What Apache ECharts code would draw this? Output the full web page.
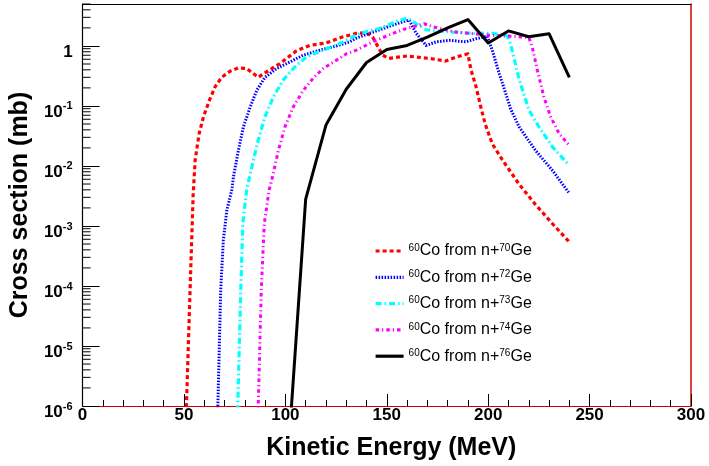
<!DOCTYPE html>
<html>
<head>
<meta charset="utf-8">
<script src="https://cdn.jsdelivr.net/npm/echarts@6/dist/echarts.min.js"></script>
<style>html,body{margin:0;padding:0;background:#fff;}#c{width:709px;height:466px;}</style>
</head>
<body>
<div id="c"></div>
<script>
// ---- data ----
const seriesNames = ['60Co from n+70Ge', '60Co from n+72Ge', '60Co from n+73Ge', '60Co from n+74Ge', '60Co from n+76Ge'];
const targetMass = ['70', '72', '73', '74', '76'];
const productMass = '60';

const energy70 = [50, 51.2, 53, 54.5, 55.5, 57.5, 59.6, 62.6, 65.4, 68.6, 72.7, 76.8, 80.9, 86.6, 90.7, 97.3, 105.5, 112, 120, 128, 135, 140, 143, 148, 151, 160, 171, 179, 184, 190, 191.5, 194, 196.4, 198.5, 202, 207, 215, 223, 231.6, 240];
const xs70 = [5e-8, 1e-6, 8.5e-5, 3.2e-3, 1.26e-2, 3.5e-2, 6.6e-2, 0.126, 0.21, 0.30, 0.38, 0.43, 0.42, 0.30, 0.37, 0.51, 0.83, 1.02, 1.12, 1.41, 1.62, 1.66, 1.41, 0.70, 0.62, 0.68, 0.62, 0.56, 0.65, 0.74, 0.40, 0.21, 0.095, 0.05, 0.0234, 0.0126, 0.0051, 0.00234, 0.0011, 0.00054];

const energy72 = [65, 66.7, 68.1, 69.4, 71.1, 73.6, 74.4, 76.8, 79.3, 82.6, 85.8, 89.9, 95.7, 102.2, 108.7, 117, 125.2, 131.7, 135, 143.1, 151.4, 159.6, 161, 164.5, 169.4, 174.3, 180.8, 189, 194, 199.5, 202, 205.4, 208.7, 211, 215.2, 223.4, 231.6, 240];
const xs72 = [5e-9, 1e-6, 8.5e-5, 5.8e-4, 1.8e-3, 4e-3, 6.6e-3, 0.018, 0.045, 0.095, 0.18, 0.30, 0.42, 0.54, 0.70, 0.85, 1.0, 1.17, 1.35, 1.7, 2.14, 2.63, 2.7, 1.62, 1.02, 1.17, 1.24, 1.17, 1.32, 1.45, 0.85, 0.35, 0.16, 0.09, 0.045, 0.018, 0.0085, 0.0035];

const energy73 = [75, 76.5, 78, 79, 80.9, 83.4, 86.6, 89.9, 94, 98.9, 104.7, 110.4, 118.6, 126.8, 136.6, 146.4, 156.3, 160.3, 164.5, 169.4, 182.5, 192.3, 202.1, 208.7, 210.3, 212, 215.2, 220.1, 225, 231.6, 240];
const xs73 = [1.3e-8, 1e-6, 8.5e-5, 1.1e-3, 4e-3, 9.5e-3, 0.027, 0.066, 0.14, 0.27, 0.45, 0.66, 0.85, 1.1, 1.62, 1.95, 2.7, 2.88, 2.34, 1.86, 1.7, 1.62, 1.62, 1.51, 1.32, 0.79, 0.28, 0.085, 0.045, 0.021, 0.0102];

const energy74 = [85, 86.6, 88.1, 89.6, 92, 94, 96.5, 99.8, 103.8, 108.7, 113.7, 118.6, 125.2, 130.1, 135, 143.1, 153, 159.6, 168.5, 172.6, 184.1, 200.5, 212, 220.1, 221.8, 224.2, 227.5, 230.8, 234.9, 240];
const xs74 = [8e-9, 1e-6, 8.5e-5, 1.1e-3, 4e-3, 7.4e-3, 0.018, 0.045, 0.095, 0.18, 0.29, 0.42, 0.58, 0.74, 0.85, 1.17, 1.62, 1.95, 2.34, 2.09, 1.7, 1.51, 1.45, 1.38, 0.93, 0.40, 0.14, 0.066, 0.035, 0.022];

const energy76 = [100, 110, 120, 130, 140, 150, 160, 170, 180, 190, 200, 210, 220, 230, 240];
const xs76 = [3.3e-8, 2.8e-3, 0.048, 0.19, 0.53, 0.87, 1.02, 1.4, 2.0, 2.75, 1.12, 1.78, 1.42, 1.6, 0.3];

const xTickValues = [0, 50, 100, 150, 200, 250, 300];
const yDecades = [-6, -5, -4, -3, -2, -1, 0];

// ---- build ----
const zip = (a, b) => a.map((v, i) => [v, b[i]]);
const allEnergy = [energy70, energy72, energy73, energy74, energy76];
const allXs = [xs70, xs72, xs73, xs74, xs76];
const colors = ['#ff0000', '#0000ff', '#00ffff', '#ff00ff', '#000000'];
const dashes = [[4, 3], [1.5, 1.5], [6, 3, 1.5, 3], [3.5, 3, 1.2, 3], 'solid'];
const widths = [3.2, 3, 3.2, 3, 3];

// minor ticks on the log axis (2..9 per decade)
const minorVals = [];
for (let d = -6; d <= 0; d++) for (let k = 2; k <= 9; k++) { const v = k * Math.pow(10, d); if (v <= 5) minorVals.push([0, v]); }

const FONT = "'Liberation Sans', Arial, Helvetica, sans-serif";

const lineSeries = seriesNames.map((n, i) => ({
  name: n, type: 'line', data: zip(allEnergy[i], allXs[i]),
  showSymbol: false, symbol: 'none', clip: true, z: 3 + i,
  lineStyle: { color: colors[i], width: widths[i], type: dashes[i], cap: 'butt', join: 'round' },
  itemStyle: { color: colors[i] }
}));

const chart = echarts.init(document.getElementById('c'), null, { renderer: 'canvas' });
chart.setOption({
  animation: false,
  backgroundColor: '#ffffff',
  grid: { left: 82, right: 18, top: 4, bottom: 60 },
  legend: {
    data: seriesNames, orient: 'vertical', left: 369, top: 238,
    itemWidth: 28, itemHeight: 16, itemGap: 10.3,
    itemStyle: { opacity: 0, borderWidth: 0, color: 'rgba(0,0,0,0)' },
    lineStyle: { width: 3.2 },
    formatter: (name) => { const i = seriesNames.indexOf(name); return '{s|' + productMass + '}{t|Co from n+}{s|' + targetMass[i] + '}{t|Ge}'; },
    textStyle: {
      fontFamily: FONT, color: '#000',
      rich: {
        t: { fontSize: 16, fontFamily: FONT, color: '#000', lineHeight: 16, verticalAlign: 'bottom' },
        s: { fontSize: 10, fontFamily: FONT, color: '#000', lineHeight: 8, verticalAlign: 'top' }
      }
    }
  },
  xAxis: [{
    type: 'value', min: 0, max: 300, interval: 50, position: 'bottom',
    name: 'Kinetic Energy (MeV)', nameLocation: 'middle', nameGap: 30,
    nameTextStyle: { fontFamily: FONT, fontWeight: 'bold', fontSize: 25, color: '#000', padding: [0, 0, 0, 9] },
    axisLine: { show: true, onZero: false, lineStyle: { color: '#cc0000', width: 1.2 } },
    axisTick: { show: true, inside: true, length: 12, lineStyle: { color: '#000', width: 1 } },
    minorTick: { show: true, splitNumber: 5, length: 6, lineStyle: { color: '#000', width: 1 } },
    axisLabel: { fontFamily: FONT, fontWeight: 'bold', fontSize: 17, color: '#000', margin: 1, showMinLabel: true, showMaxLabel: true },
    splitLine: { show: false }
  }, {
    type: 'value', min: 0, max: 300, position: 'top',
    axisLine: { show: true, onZero: false, lineStyle: { color: '#000', width: 1.2 } },
    axisTick: { show: false }, axisLabel: { show: false }, splitLine: { show: false }
  }],
  yAxis: [{
    type: 'log', logBase: 10, min: 1e-6, max: 5, position: 'left',
    name: 'Cross section (mb)', nameLocation: 'middle', nameGap: 47,
    nameTextStyle: { fontFamily: FONT, fontWeight: 'bold', fontSize: 25, color: '#000' },
    axisLine: { show: true, onZero: false, lineStyle: { color: '#000', width: 1.2 } },
    axisTick: { show: true, inside: true, length: 17, lineStyle: { color: '#000', width: 1 } },
    minorTick: { show: false },
    axisLabel: {
      margin: 10, padding: [10, 0, 0, 0],
      formatter: (v) => {
        const l = Math.log10(v), e = Math.round(l);
        if (Math.abs(l - e) > 1e-6 || yDecades.indexOf(e) < 0) return '';
        if (e === 0) return '{b|1}';
        return '{b|10}{e|' + e + '}';
      },
      rich: {
        b: { fontFamily: FONT, fontWeight: 'bold', fontSize: 17, color: '#000', lineHeight: 20, verticalAlign: 'bottom' },
        e: { fontFamily: FONT, fontWeight: 'bold', fontSize: 11, color: '#000', lineHeight: 8, verticalAlign: 'top' }
      }
    },
    splitLine: { show: false }
  }, {
    type: 'value', min: 0, max: 1, position: 'right',
    axisLine: { show: true, onZero: false, lineStyle: { color: '#dd0000', width: 1.5 } },
    axisTick: { show: false }, axisLabel: { show: false }, splitLine: { show: false }
  }],
  series: lineSeries.concat([{
    name: 'minorY', type: 'custom', data: minorVals, z: 10, silent: true, clip: false,
    renderItem: (params, api) => {
      const p = api.coord([api.value(0), api.value(1)]);
      return { type: 'line', shape: { x1: p[0], y1: p[1], x2: p[0] + 8, y2: p[1] }, style: { stroke: '#000', lineWidth: 1 } };
    }
  }])
});
</script>
</body>
</html>
